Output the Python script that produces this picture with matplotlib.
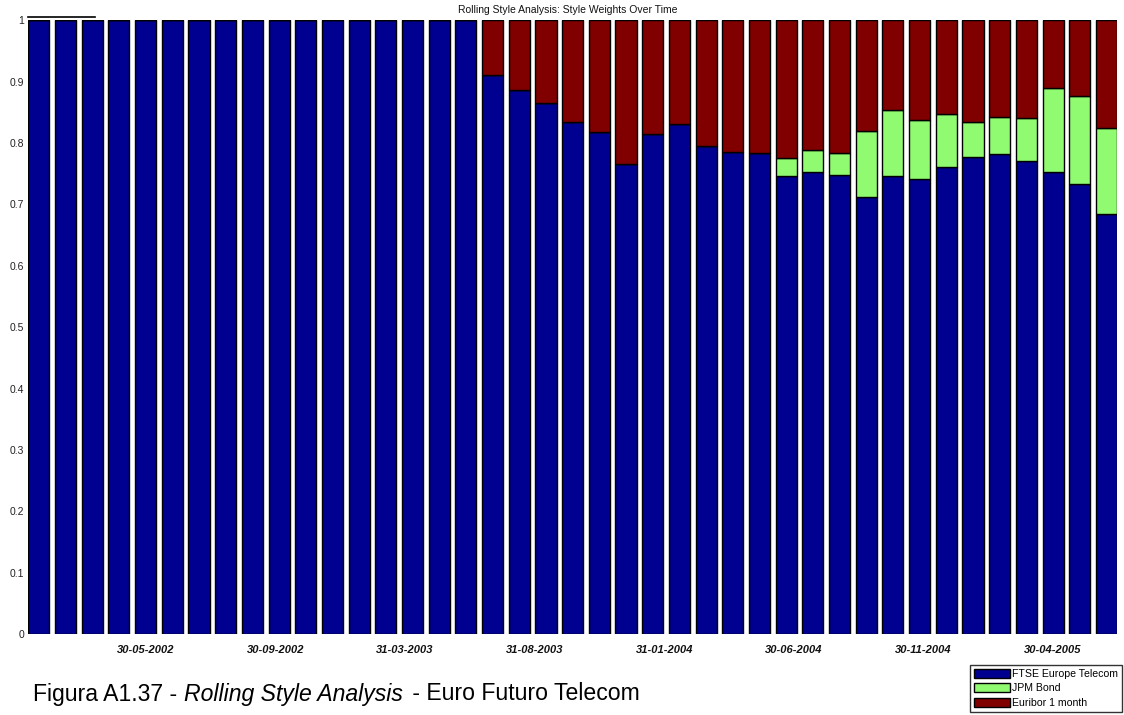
import numpy as np
import matplotlib
matplotlib.use("Agg")
import matplotlib.pyplot as plt
from matplotlib.lines import Line2D

plt.rcParams["font.family"] = ["Liberation Sans", "DejaVu Sans"]

# Style weights per rolling window (41 windows)
ftse = [1.0] * 17 + [0.911, 0.887, 0.866, 0.835, 0.818, 0.766, 0.815, 0.831,
                     0.795, 0.785, 0.784, 0.747, 0.753, 0.748, 0.712, 0.746,
                     0.741, 0.761, 0.778, 0.782, 0.771, 0.752, 0.733, 0.684]
jpm = [0.0] * 17 + [0.0, 0.0, 0.0, 0.0, 0.0, 0.0, 0.0, 0.0,
                    0.0, 0.0, 0.0, 0.028, 0.035, 0.036, 0.108, 0.108,
                    0.097, 0.087, 0.056, 0.060, 0.069, 0.138, 0.143, 0.140]
euribor = [0.0] * 17 + [0.089, 0.113, 0.134, 0.165, 0.182, 0.234, 0.185, 0.169,
                        0.205, 0.215, 0.216, 0.225, 0.212, 0.216, 0.180, 0.146,
                        0.162, 0.152, 0.166, 0.158, 0.160, 0.110, 0.124, 0.176]

series_names = ["FTSE Europe Telecom", "JPM Bond", "Euribor 1 month"]
series_colors = ["#000090", "#90FA70", "#800000"]

date_labels = ["30-05-2002", "30-09-2002", "31-03-2003", "31-08-2003",
               "31-01-2004", "30-06-2004", "30-11-2004", "30-04-2005"]
y_ticks = [0, 0.1, 0.2, 0.3, 0.4, 0.5, 0.6, 0.7, 0.8, 0.9, 1]

W, H = 1124, 715
fig = plt.figure(figsize=(W / 100, H / 100), dpi=100)
fig.patch.set_facecolor("white")

left, right, top, bottom = 28.3, 1117.0, 20.3, 634.0
ax = fig.add_axes([left / W, 1 - bottom / H, (right - left) / W, (bottom - top) / H])

x = np.arange(len(ftse))
width = 0.79
base = np.zeros(len(ftse))
handles = []
for vals, name, col in zip([ftse, jpm, euribor], series_names, series_colors):
    vals = np.asarray(vals)
    b = ax.bar(x, vals, width, bottom=base, color=col, edgecolor="black",
               linewidth=1.0, label=name)
    handles.append(b)
    base = base + vals

ax.set_xlim(-0.395, len(ftse) - 1 + 0.395)
ax.set_ylim(0, 1)
for s in ax.spines.values():
    s.set_visible(False)

ax.set_yticks(y_ticks)
ax.set_yticklabels([f"{v:g}" for v in y_ticks], fontsize=7.5, color="#222222")
ax.tick_params(axis="y", length=0, pad=3)

tick_pos = np.linspace(4, 38, len(date_labels))
ax.set_xticks(tick_pos)
ax.set_xticklabels(date_labels, fontsize=8, fontweight="bold", style="italic",
                   color="#111111")
ax.tick_params(axis="x", length=0, pad=8)

fig.text(0.505, 1 - 10 / H, "Rolling Style Analysis: Style Weights Over Time",
         ha="center", va="center", fontsize=7.5, color="#111111")

# short rule above the first bars
fig.add_artist(Line2D([28 / W, 95 / W], [1 - 17 / H, 1 - 17 / H],
                      transform=fig.transFigure, color="black", lw=1.2))

# caption, assembled from three runs of text
cap_y = 1 - 694 / H
cap_size = 16.6
t1 = fig.text(33 / W, cap_y, "Figura A1.37 - ", fontsize=cap_size,
              va="center", ha="left")
fig.canvas.draw()
bb = t1.get_window_extent()
t2 = fig.text(bb.x1 / W, cap_y, "Rolling Style Analysis", fontsize=cap_size,
              style="italic", va="center", ha="left")
fig.canvas.draw()
bb2 = t2.get_window_extent()
fig.text((bb2.x1 + 4) / W, cap_y, " - Euro Futuro Telecom", fontsize=cap_size,
         va="center", ha="left")

leg = fig.legend(handles=handles, labels=series_names, loc="lower right",
                 bbox_to_anchor=(1122 / W, 1 - 712 / H), fontsize=7.6,
                 frameon=True, fancybox=False, edgecolor="black",
                 handlelength=3.4, handleheight=0.95, labelspacing=0.42,
                 borderpad=0.38, handletextpad=0.2, borderaxespad=0.0)
leg.get_frame().set_linewidth(1.0)

fig.savefig("out.png", dpi=100, facecolor="white")
